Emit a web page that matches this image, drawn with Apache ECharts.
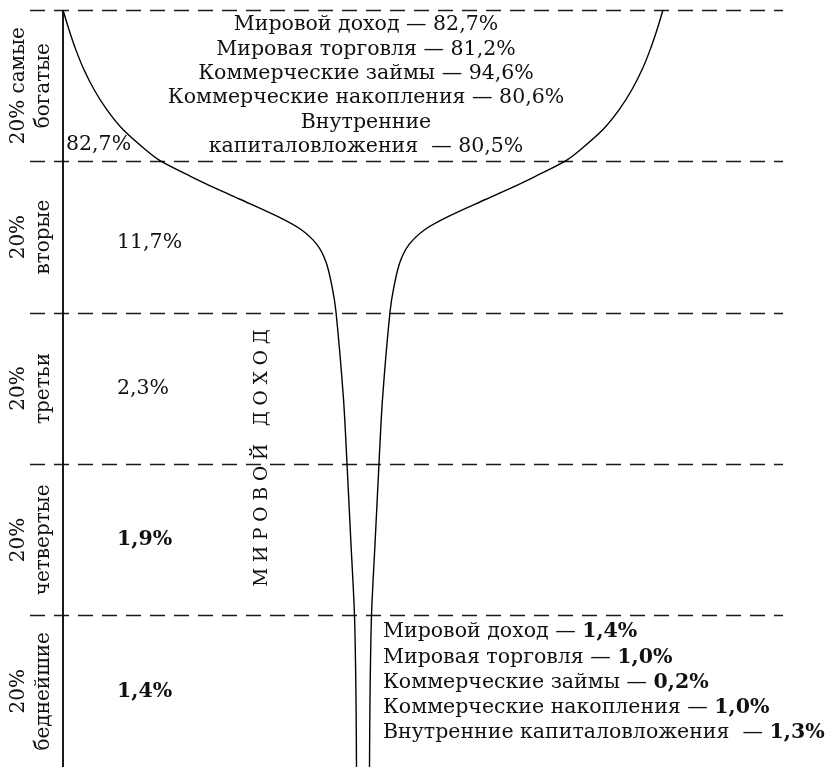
<!DOCTYPE html>
<html>
<head>
<meta charset="utf-8">
<script src="https://cdn.jsdelivr.net/npm/echarts@6/dist/echarts.min.js"></script>
<style>
  html, body { margin: 0; padding: 0; background: #fff; }
  #chart { width: 831px; height: 767px; }
</style>
</head>
<body>
<div id="chart"></div>
<script>
// Population percentile (0 = poorest, 100 = richest) along the glass profile
const popPct = [100, 97.4, 94.7, 92.1, 89.5, 86.8, 84.2, 81.6, 80.1, 78.0, 76.3, 75.0,
                72.7, 71.0, 69.0, 66.7, 63.5, 60.1, 48.6, 40.1, 30.2, 20.0, 9.1, 0];
// Half-width of the glass at each percentile (income share scale)
const halfWidth = [300, 294, 287, 279, 269, 256, 240, 218, 203, 172, 145, 123,
                   85, 62, 46, 37, 31, 27, 19.5, 16, 12.3, 8.5, 7, 6.5];

// Population quintiles, top to bottom
const quintileLabels = ['20% самые\nбогатые', '20%\nвторые', '20%\nтретьи', '20%\nчетвертые', '20%\nбеднейшие'];
const quintileMid = [90, 70, 50, 30, 10];
// Share of world income by quintile
const incomeShare = [82.7, 11.7, 2.3, 1.9, 1.4];

// Indicators for richest and poorest quintiles
const indicatorNamesTop = ['Мировой доход', 'Мировая торговля', 'Коммерческие займы',
                           'Коммерческие накопления', 'Внутренние\nкапиталовложения'];
const richestShare = [82.7, 81.2, 94.6, 80.6, 80.5];
const indicatorNamesBottom = ['Мировой доход', 'Мировая торговля', 'Коммерческие займы',
                              'Коммерческие накопления', 'Внутренние капиталовложения'];
const poorestShare = [1.4, 1.0, 0.2, 1.0, 1.3];

const axisTitle = 'М И Р О В О Й   Д О Х О Д';

const fmt = v => v.toFixed(1).replace('.', ',') + '%';
const SERIF = '"DejaVu Serif", "Liberation Serif", serif';
const INK = '#111';

const chart = echarts.init(document.getElementById('chart'), null, { renderer: 'canvas' });

const leftEdge = popPct.map((p, i) => [-halfWidth[i], p]);
const rightEdge = popPct.map((p, i) => [halfWidth[i], p]);

const lineStyle = { color: '#000', width: 1.4 };

chart.setOption({
  animation: false,
  backgroundColor: '#fff',
  grid: { left: 30, right: 48, top: 10, height: 759 },
  xAxis: {
    type: 'value', min: -333, max: 420,
    axisLine: { show: false }, axisTick: { show: false },
    axisLabel: { show: false }, splitLine: { show: false }
  },
  yAxis: {
    type: 'value', min: 0, max: 100, interval: 20,
    axisLine: { show: false }, axisTick: { show: false }, axisLabel: { show: false },
    splitLine: {
      show: true, showMinLine: false,
      lineStyle: { color: '#1a1a1a', width: 1.4, type: [15, 9] }
    }
  },
  series: [
    {
      type: 'line', data: leftEdge, symbol: 'none', smooth: 0.3,
      lineStyle, silent: true,
      markLine: {
        silent: true, symbol: 'none', label: { show: false },
        lineStyle: { color: '#000', width: 1.8, type: 'solid' },
        data: [{ xAxis: -halfWidth[0] }]
      }
    },
    {
      type: 'line', data: rightEdge, symbol: 'none', smooth: 0.3,
      lineStyle, silent: true
    }
  ]
});

// Text annotations placed in data coordinates
const px = (x, y) => chart.convertToPixel({ gridIndex: 0 }, [x, y]);
const graphics = [];

// Quintile captions, rotated along the left edge
quintileLabels.forEach((t, i) => {
  const y = px(0, quintileMid[i])[1];
  graphics.push({
    type: 'text', x: 31, y, rotation: Math.PI / 2,
    style: { text: t, fill: INK, font: '20px ' + SERIF, align: 'center', verticalAlign: 'middle', lineHeight: 25 }
  });
});

// Income share per quintile
incomeShare.forEach((v, i) => {
  const bold = i >= 3;
  let y, x = 117;
  if (i === 0) { y = px(0, 82.2)[1]; x = 66; }
  else if (i === 1) { y = px(0, 69.3)[1]; }
  else { y = px(0, quintileMid[i])[1]; }
  graphics.push({
    type: 'text', x, y,
    style: { text: fmt(v), fill: INK, font: (bold ? 'bold ' : '') + '20.5px ' + SERIF, align: 'left', verticalAlign: 'middle' }
  });
});

// Richest quintile block
const topLines = [];
indicatorNamesTop.forEach((n, i) => {
  const parts = n.split('\n');
  parts.forEach((p, j) => {
    if (j === parts.length - 1) topLines.push(p + (parts.length > 1 ? '  — ' : ' — ') + fmt(richestShare[i]));
    else topLines.push(p);
  });
});
topLines.forEach((t, k) => {
  graphics.push({
    type: 'text', x: 366, y: 25 + k * 24.3,
    style: { text: t, fill: INK, font: '20.5px ' + SERIF, align: 'center', verticalAlign: 'middle' }
  });
});

// Poorest quintile block
indicatorNamesBottom.forEach((n, i) => {
  graphics.push({
    type: 'text', x: 383, y: 632 + i * 25.2,
    style: {
      text: '{n|' + n + (i === 4 ? '  — ' : ' — ') + '}{v|' + fmt(poorestShare[i]) + '}',
      verticalAlign: 'middle', align: 'left',
      rich: {
        n: { fill: INK, font: '20.5px ' + SERIF },
        v: { fill: INK, font: 'bold 20.5px ' + SERIF }
      }
    }
  });
});

// Vertical caption alongside the glass stem
graphics.push({
  type: 'text', x: 262, y: 458, rotation: Math.PI / 2,
  style: { text: axisTitle, fill: INK, font: '18.5px ' + SERIF, align: 'center', verticalAlign: 'middle' }
});

chart.setOption({ graphic: graphics });
</script>
</body>
</html>
